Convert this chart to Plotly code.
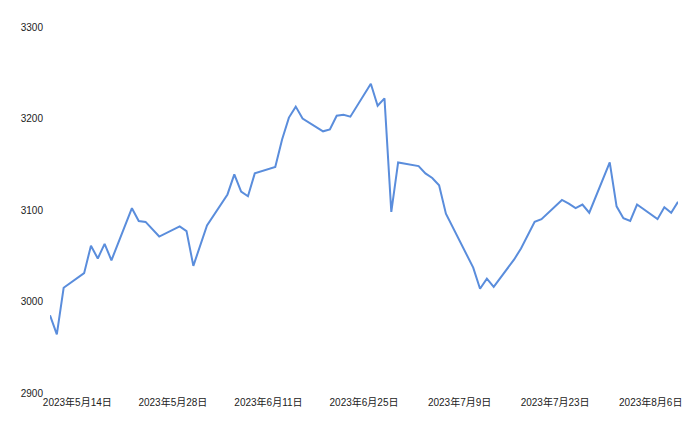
import plotly.graph_objects as go

dates = [
    "2023-05-10", "2023-05-11", "2023-05-12",
    "2023-05-15", "2023-05-16", "2023-05-17", "2023-05-18", "2023-05-19",
    "2023-05-22", "2023-05-23", "2023-05-24", "2023-05-25", "2023-05-26",
    "2023-05-29", "2023-05-30", "2023-05-31", "2023-06-01", "2023-06-02",
    "2023-06-05", "2023-06-06", "2023-06-07", "2023-06-08", "2023-06-09",
    "2023-06-12", "2023-06-13", "2023-06-14", "2023-06-15", "2023-06-16",
    "2023-06-19", "2023-06-20", "2023-06-21", "2023-06-22", "2023-06-23",
    "2023-06-26", "2023-06-27", "2023-06-28", "2023-06-29", "2023-06-30",
    "2023-07-03", "2023-07-04", "2023-07-05", "2023-07-06", "2023-07-07",
    "2023-07-10", "2023-07-11", "2023-07-12", "2023-07-13", "2023-07-14",
    "2023-07-17", "2023-07-18", "2023-07-19", "2023-07-20", "2023-07-21",
    "2023-07-24", "2023-07-25", "2023-07-26", "2023-07-27", "2023-07-28",
    "2023-07-31", "2023-08-01", "2023-08-02", "2023-08-03", "2023-08-04",
    "2023-08-07", "2023-08-08", "2023-08-09", "2023-08-10",
]
values = [
    2985, 2964, 3015,
    3031, 3061, 3047, 3063, 3045,
    3102, 3088, 3087, 3079, 3071,
    3082, 3077, 3039, 3061, 3083,
    3117, 3139, 3120, 3115, 3140,
    3147, 3177, 3201, 3213, 3200,
    3186, 3188, 3203, 3204, 3202,
    3238, 3214, 3222, 3098, 3152,
    3148, 3140, 3135, 3127, 3096,
    3053, 3037, 3014, 3025, 3016,
    3046, 3058, 3072, 3087, 3090,
    3111, 3107, 3102, 3106, 3097,
    3152, 3104, 3091, 3088, 3106,
    3090, 3103, 3097, 3109,
]

x_tick_vals = ["2023-05-14", "2023-05-28", "2023-06-11", "2023-06-25",
               "2023-07-09", "2023-07-23", "2023-08-06"]
x_tick_text = ["2023年5月14日", "2023年5月28日", "2023年6月11日", "2023年6月25日",
               "2023年7月9日", "2023年7月23日", "2023年8月6日"]
y_tick_vals = [2900, 3000, 3100, 3200, 3300]

fig = go.Figure()
fig.add_trace(go.Scatter(
    x=dates, y=values, mode="lines",
    line=dict(color="#5a8ddc", width=2),
    hoverinfo="x+y",
))

fig.update_layout(
    width=692, height=424,
    margin=dict(l=42, r=22, t=19, b=39),
    paper_bgcolor="white", plot_bgcolor="white",
    showlegend=False,
    font=dict(family="'Liberation Sans', Arial, 'Noto Sans CJK SC', sans-serif", size=10, color="#222222"),
    xaxis=dict(
        type="date",
        range=[dates[0], dates[-1]],
        tickvals=x_tick_vals, ticktext=x_tick_text,
        showgrid=False, zeroline=False, showline=False, ticks="",
        tickfont=dict(size=10, color="#222222"),
        ticklabelstandoff=2,
    ),
    yaxis=dict(
        range=[2900, 3300],
        tickvals=y_tick_vals,
        showgrid=False, zeroline=False, showline=False, ticks="",
        tickfont=dict(size=10, color="#222222"),
        ticklabelstandoff=6,
    ),
)

fig.write_html("out.html")
